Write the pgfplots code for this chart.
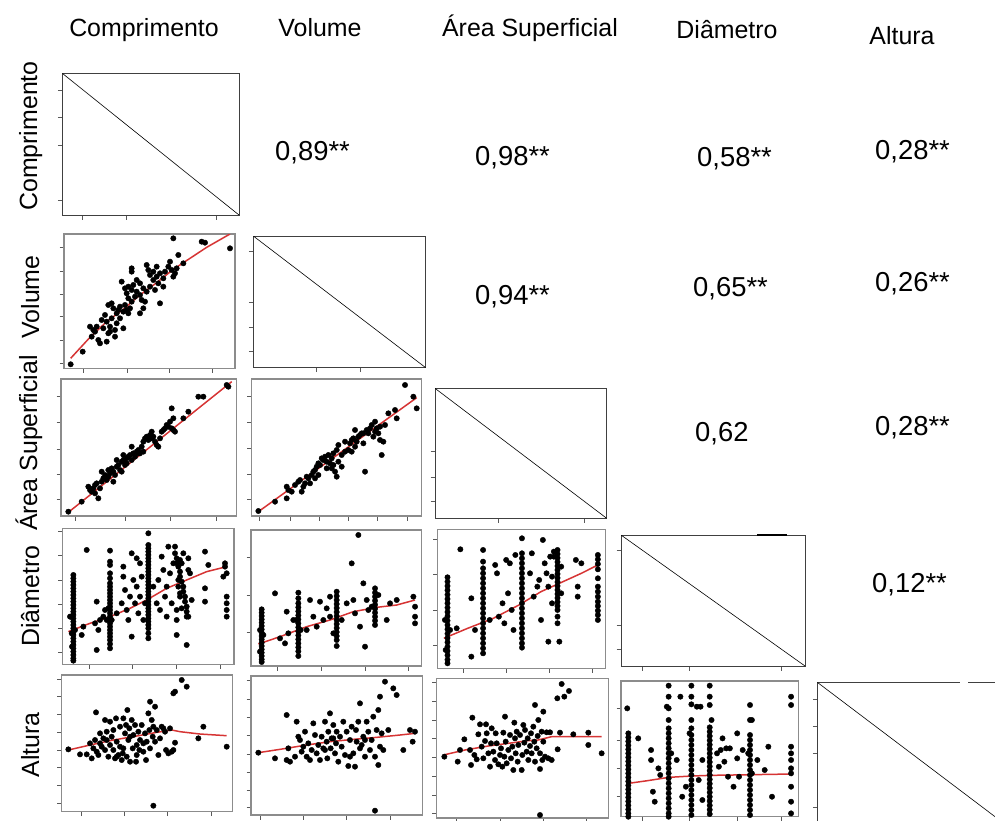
\documentclass[border=0pt]{standalone}
\usepackage{fontspec}
\setmainfont{Liberation Sans}
\usepackage{pgfplots}
\pgfplotsset{compat=1.18}
\definecolor{fitred}{RGB}{214,52,52}
\pgfplotsset{
  panel/.style={scale only axis, anchor=north west, y dir=reverse,
    axis line style={black!45, line width=1.4bp}, tick align=outside,
    major tick length=4.5bp, tick style={black!65, line width=0.7bp},
    xticklabels={}, yticklabels={}, xtick pos=bottom, ytick pos=left, clip=true},
  dpanel/.style={panel, axis line style={black!75, line width=0.9bp}},
  scat/.style={only marks, mark=*, mark size=2.7bp, black, mark options={draw=black, fill=black}},
  fit/.style={no marks, fitred, line width=1.5bp},
  dline/.style={no marks, black, line width=0.6bp},
}
\begin{document}
\begin{tikzpicture}
\useasboundingbox (0,0) rectangle (995bp,-821bp);
% headers
\begin{scope}[every node/.style={font=\fontsize{25}{30}\selectfont, anchor=base, inner sep=0pt}]
\node at (144bp,-36bp) {Comprimento};
\node at (320bp,-36bp) {Volume};
\node at (530bp,-36bp) {Área Superficial};
\node at (727bp,-38bp) {Diâmetro};
\node at (902bp,-44bp) {Altura};
\node[rotate=90] at (37bp,-136bp) {Comprimento};
\node[rotate=90] at (39bp,-297bp) {Volume};
\node[rotate=90] at (37bp,-443bp) {Área Superficial};
\node[rotate=90] at (39bp,-596bp) {Diâmetro};
\node[rotate=90] at (39bp,-745bp) {Altura};
\end{scope}
\begin{scope}[every node/.style={font=\fontsize{27.5}{32}\selectfont, anchor=base west, inner sep=0pt}]
\node at (275bp,-160bp) {0,89**};
\node at (475bp,-165bp) {0,98**};
\node at (697bp,-166bp) {0,58**};
\node at (875bp,-159bp) {0,28**};
\node at (475bp,-304bp) {0,94**};
\node at (693bp,-296bp) {0,65**};
\node at (875bp,-291bp) {0,26**};
\node at (695bp,-441bp) {0,62};
\node at (875bp,-435bp) {0,28**};
\node at (872bp,-592bp) {0,12**};
\end{scope}

% Row 1
\begin{axis}[dpanel, at={(62.3bp,-73.3bp)}, width=176.7bp, height=141.7bp,
  xmin=187, xmax=717, ymin=40, ymax=465, xtick={248,380,650}, ytick={92,173,255,420}]
\addplot[dline] coordinates {(187,40) (717,465)};
\end{axis}

% Row 2
\begin{axis}[panel, at={(64bp,-234bp)}, width=171bp, height=134.3bp,
  xmin=72, xmax=585, ymin=12, ymax=415, xtick={130,262,388,518}, ytick={52,123,192,260,330,400}]
\addplot[scat] coordinates {(92,403)(128,365)(150,290)(160,300)(155,320)(165,305)(175,330)(180,340)(200,335)(205,310)(190,295)(200,275)(215,265)(210,290)(225,300)(230,280)(240,265)(250,295)(205,225)(215,220)(220,235)(235,240)(240,230)(250,245)(255,225)(260,240)(265,250)(270,235)(275,215)(285,200)(290,185)(300,195)(305,210)(310,235)(245,155)(255,175)(265,170)(275,180)(280,165)(290,150)(300,160)(310,175)(320,185)(330,170)(275,115)(275,125)(320,105)(325,120)(330,135)(340,125)(350,140)(360,130)(350,110)(340,150)(355,160)(360,220)(370,145)(375,125)(385,110)(390,95)(395,120)(400,140)(405,130)(410,115)(415,75)(430,100)(400,25)(485,35)(495,38)(570,55)(265,205)(230,250)(260,190)(300,250)(315,215)(345,180)(370,170)(195,255)(170,290)(185,270)(210,305)(225,320)};
\addplot[fit] coordinates {(92,385)(150,322)(200,275)(250,238)(300,195)(350,158)(400,118)(450,85)(500,52)(570,12)};
\end{axis}
\begin{axis}[dpanel, at={(253.3bp,-236bp)}, width=172.4bp, height=131.7bp,
  xmin=640, xmax=1157, ymin=18, ymax=413, xtick={830,960}, ytick={65,217,291,365}]
\addplot[dline] coordinates {(640,18) (1157,413)};
\end{axis}

% Row 3
\begin{axis}[panel, at={(61bp,-379bp)}, width=175.7bp, height=137bp,
  xmin=18, xmax=545, ymin=12, ymax=423, xtick={60,212,345,485}, ytick={65,143,222,297,372}]
\addplot[scat] coordinates {(40,410)(80,380)(100,335)(105,345)(110,350)(115,340)(120,330)(125,325)(130,370)(135,340)(140,320)(145,310)(150,300)(155,315)(160,305)(165,295)(170,280)(175,290)(180,300)(185,275)(190,270)(195,285)(200,260)(205,255)(210,270)(215,250)(220,245)(225,240)(230,255)(235,235)(240,245)(245,230)(250,225)(255,235)(260,215)(265,200)(270,190)(275,185)(280,195)(285,180)(290,190)(295,185)(300,200)(305,210)(310,215)(315,190)(320,170)(325,165)(330,160)(335,150)(340,155)(345,140)(350,160)(355,165)(360,170)(350,100)(355,130)(385,130)(400,110)(430,65)(445,65)(515,30)(520,35)(140,290)(160,285)(185,255)(205,240)(230,215)(250,235)(200,290)(175,320)(120,355)(215,265)(265,230)(290,170)};
\addplot[fit] coordinates {(40,412)(530,20)};
\end{axis}
\begin{axis}[panel, at={(251.7bp,-379bp)}, width=170bp, height=137bp,
  xmin=590, xmax=1100, ymin=12, ymax=423, xtick={612,705,793,880,968,1058}, ytick={65,143,220,297,372}]
\addplot[scat] coordinates {(610,408)(660,380)(695,370)(695,335)(700,345)(710,350)(720,330)(730,320)(735,315)(740,350)(745,335)(750,325)(755,305)(760,310)(770,300)(775,290)(780,285)(785,275)(790,265)(795,270)(800,250)(805,255)(810,245)(815,260)(820,240)(825,265)(830,280)(835,270)(840,290)(845,305)(830,250)(835,235)(845,225)(850,210)(860,240)(870,230)(880,225)(885,205)(890,195)(895,190)(900,215)(905,200)(910,185)(915,180)(920,175)(925,205)(930,290)(935,165)(940,175)(945,160)(950,150)(955,185)(960,170)(965,160)(970,175)(975,195)(980,240)(985,200)(990,150)(1000,115)(1020,105)(1025,130)(1050,30)(1075,65)(1085,100)(765,325)(790,300)(815,280)(780,310)(850,260)(870,200)(900,165)(925,175)(960,140)(975,155)(860,275)(890,230)};
\addplot[fit] coordinates {(610,410)(1085,68)};
\end{axis}
\begin{axis}[dpanel, at={(435bp,-388.3bp)}, width=171.7bp, height=130bp,
  xmin=45, xmax=560, ymin=55, ymax=445, xtick={235,493}, ytick={245,322,395}]
\addplot[dline] coordinates {(45,55) (560,445)};
\end{axis}

% Row 4
\begin{axis}[panel, at={(62.7bp,-528.3bp)}, width=171.3bp, height=136bp,
  xmin=68, xmax=582, ymin=25, ymax=433, xtick={148,277,408,540}, ytick={35,107,182,253,325,398}]
\addplot[scat] coordinates {(100,165)(100,175)(100,185)(100,195)(100,205)(100,215)(100,225)(100,235)(100,245)(100,255)(100,265)(100,275)(100,285)(100,295)(100,305)(100,315)(100,325)(100,335)(100,345)(100,355)(100,365)(100,375)(100,385)(100,395)(100,405)(100,415)(100,422)(92,290)(95,340)(105,330)(96,380)
(210,92)(210,125)(210,135)(210,160)(210,175)(210,190)(210,200)(210,210)(210,220)(210,230)(210,240)(210,250)(210,260)(210,270)(210,280)(210,290)(210,300)(210,310)(210,320)(210,330)(210,340)(210,350)(210,360)(210,372)(210,385)(205,265)(215,300)
(325,40)(325,75)(325,85)(325,95)(325,105)(325,115)(325,125)(325,135)(325,145)(325,155)(325,165)(325,175)(325,185)(325,195)(325,205)(325,215)(325,225)(325,235)(325,245)(325,255)(325,265)(325,275)(325,285)(325,295)(325,305)(325,315)(325,325)(325,340)(325,355)
(405,80)(405,100)(410,115)(410,130)(415,140)(420,155)(420,170)(425,185)(430,200)(430,215)(435,230)(435,245)(440,260)(440,275)(440,290)(430,100)(425,130)(445,150)(415,200)(420,230)(425,265)(410,300)
(90,290)(125,345)(130,320)(140,90)(165,310)(170,245)(170,390)(175,330)(180,300)(190,290)(195,270)(200,300)(230,280)(245,250)(250,170)(250,140)(255,210)(260,270)(265,300)(270,230)(275,100)(275,350)(280,180)(285,250)(290,115)(290,200)(295,280)(300,130)(300,230)(305,170)(310,300)(315,250)(340,200)(350,250)(355,180)(360,270)(365,110)(370,150)(375,230)(380,200)(380,290)(385,80)(390,160)(395,250)(400,130)(410,270)(410,345)(415,180)(420,120)(420,220)(440,375)(445,115)(445,290)(450,160)(455,240)(495,95)(495,205)(495,245)(505,135)(555,130)(555,140)(560,160)(560,230)(560,250)(560,270)(560,290)(550,170)};
\addplot[fit] coordinates {(85,335)(150,310)(210,290)(270,265)(320,240)(380,205)(440,180)(500,155)(560,140)};
\end{axis}
\begin{axis}[panel, at={(251bp,-530bp)}, width=170.7bp, height=136bp,
  xmin=633, xmax=1145, ymin=30, ymax=438, xtick={712,843,975,1105}, ytick={113,225,338}]
\addplot[scat] coordinates {(665,268)(665,278)(665,288)(665,298)(665,308)(665,318)(665,328)(665,338)(665,348)(665,358)(665,368)(665,378)(665,388)(665,398)(665,408)(665,418)(665,426)(660,330)(670,345)(660,395)
(775,218)(775,235)(775,250)(775,262)(775,274)(775,286)(775,298)(775,310)(775,322)(775,334)(775,346)(775,358)(775,370)(775,382)(775,394)(775,408)(768,300)(782,330)
(890,215)(890,228)(890,240)(890,252)(890,264)(890,276)(890,288)(890,300)(890,312)(890,324)(890,336)(890,348)(890,360)(890,378)
(1005,205)(1005,218)(1005,230)(1005,242)(1005,254)(1005,266)(1005,278)(1005,290)(1005,302)(1005,315)(1015,225)(995,260)
(705,220)(740,275)(735,370)(745,340)(720,355)(810,240)(820,290)(830,320)(840,245)(850,300)(860,265)(870,230)(880,340)(905,300)(920,250)(935,130)(945,280)(955,45)(960,320)(970,190)(975,380)(980,240)(985,270)(1040,300)(1050,250)(1070,240)(1120,230)(1125,260)(1125,290)(1125,310)(800,330)(760,300)(870,290)(940,240)};
\addplot[fit] coordinates {(655,372)(720,350)(800,320)(870,300)(940,275)(1010,262)(1070,255)(1125,240)};
\end{axis}
\begin{axis}[panel, at={(437.6bp,-529.3bp)}, width=167.6bp, height=139bp,
  xmin=48, xmax=505, ymin=28, ymax=445, xtick={118,235,352,470}, ytick={58,163,270,375}]
\addplot[scat] coordinates {(75,172)(75,185)(75,198)(75,211)(75,224)(75,237)(75,250)(75,263)(75,276)(75,289)(75,302)(75,315)(75,328)(75,341)(75,354)(75,367)(75,380)(75,393)(75,406)(75,419)(75,430)(68,300)(82,330)(70,390)
(172,90)(172,125)(172,145)(172,160)(172,175)(172,190)(172,205)(172,220)(172,235)(172,250)(172,265)(172,280)(172,295)(172,310)(172,325)(172,340)(172,355)(172,370)(172,385)(172,400)
(278,55)(278,100)(278,115)(278,130)(278,145)(278,160)(278,175)(278,190)(278,205)(278,220)(278,235)(278,250)(278,265)(278,280)(278,295)(278,310)(278,325)(278,340)(278,355)(278,370)(278,383)
(375,90)(375,102)(375,114)(375,126)(375,138)(375,150)(375,162)(375,174)(375,186)(375,198)(375,210)(375,222)(375,234)(375,246)(375,258)(375,270)(375,290)(375,310)(365,110)(385,140)(360,170)
(485,105)(485,118)(485,132)(485,148)(485,175)(485,200)(485,215)(485,230)(485,245)(485,258)(485,272)(485,285)(485,300)
(110,88)(100,325)(140,235)(140,410)(150,330)(190,300)(205,135)(210,160)(215,290)(225,250)(230,310)(235,120)(240,220)(245,130)(250,270)(255,330)(260,105)(300,160)(305,100)(310,230)(320,200)(325,180)(330,300)(335,60)(340,130)(345,160)(350,200)(350,365)(355,110)(360,250)(365,95)(380,365)(385,220)(425,120)(430,200)(430,230)(440,130)};
\addplot[fit] coordinates {(65,355)(130,325)(200,295)(270,255)(330,215)(390,185)(440,160)(485,135)};
\end{axis}
\begin{axis}[dpanel, at={(621bp,-535bp)}, width=184bp, height=131bp,
  xmin=548, xmax=1050, ymin=45, ymax=438, xtick={605,735,985}, ytick={90,315,388}]
\addplot[dline] coordinates {(548,45) (1050,438)};
\end{axis}
\draw[black, line width=2bp] (757bp,-535bp) -- (787bp,-535bp);

% Row 5
\begin{axis}[panel, at={(61.7bp,-675bp)}, width=171bp, height=136.7bp,
  xmin=65, xmax=578, ymin=45, ymax=455, xtick={125,253,383,513}, ytick={57,110,163,217,270,323,377,430}]
\addplot[scat] coordinates {(340,437)(425,60)(440,80)(400,100)(405,95)(330,125)(345,140)(490,200)(475,235)(560,260)
(85,268)(120,283)(140,283)(150,250)(155,295)(160,265)(165,240)(168,157)(170,275)(175,285)(180,220)(185,260)(190,235)(195,180)(195,270)(200,240)(205,290)(210,255)(210,185)(215,230)(220,270)(225,295)(228,175)(230,245)(235,285)(240,260)(240,200)(245,300)(248,280)(250,175)(255,220)(258,195)(260,290)(262,150)(265,240)(268,205)(270,305)(275,180)(278,265)(280,225)(285,195)(288,305)(290,255)(295,215)(298,270)(300,240)(305,195)(310,275)(315,220)(318,300)(320,245)(325,160)(328,210)(330,265)(335,180)(338,230)(340,200)(345,245)(350,210)(355,285)(360,235)(365,200)(370,205)(375,215)(378,270)(385,280)(390,205)(395,275)(400,270)(405,248)(250,265)(220,210)(270,230)(230,290)(290,285)(310,250)(200,215)(180,250)};
\addplot[fit] coordinates {(85,270)(150,255)(220,240)(290,228)(350,217)(395,210)(420,215)(480,222)(560,227)};
\end{axis}
\begin{axis}[panel, at={(251bp,-676bp)}, width=171.3bp, height=139bp,
  xmin=633, xmax=1147, ymin=48, ymax=465, xtick={660,790,920,1050}, ytick={62,118,172,227,282,337,390,443}]
\addplot[scat] coordinates {(1005,452)(1035,65)(1060,85)(1070,105)(1020,110)(1015,150)(960,130)(740,165)(1090,270)(1118,245)(1125,215)(1110,210)
(655,278)(705,295)(740,300)(745,265)(750,305)(765,290)(770,185)(775,230)(780,240)(785,275)(790,260)(795,215)(800,290)(805,250)(810,300)(815,270)(820,190)(825,225)(830,280)(835,255)(840,300)(845,230)(850,265)(855,185)(860,245)(862,295)(865,215)(870,160)(872,265)(875,235)(880,195)(885,280)(888,250)(890,215)(895,305)(900,230)(905,260)(910,185)(915,285)(920,215)(925,318)(930,240)(935,200)(940,280)(945,320)(948,210)(950,245)(955,185)(960,265)(965,255)(970,230)(975,290)(980,185)(985,215)(990,270)(995,240)(1000,170)(1005,290)(1010,210)(1015,315)(1020,260)(1025,220)(1030,270)(1045,210)(880,235)(855,270)(930,290)(975,240)};
\addplot[fit] coordinates {(655,278)(720,268)(800,255)(870,245)(940,238)(1010,232)(1080,225)(1125,220)};
\end{axis}
\begin{axis}[panel, at={(436.7bp,-678.3bp)}, width=171.6bp, height=139.7bp,
  xmin=35, xmax=550, ymin=25, ymax=444, xtick={95,225,355,485}, ytick={38,93,150,205,262,318,375,430}]
\addplot[scat] coordinates {(410,42)(432,63)(418,80)(397,85)(330,105)(355,125)(340,150)(345,435)(530,250)(490,225)(490,188)(445,193)(405,188)(398,238)(345,297)
(58,260)(98,275)(105,240)(118,208)(135,240)(138,285)(142,143)(148,255)(155,268)(160,193)(165,163)(170,230)(175,265)(180,213)(183,163)(185,190)(190,250)(195,290)(198,220)(200,175)(205,245)(210,270)(212,190)(215,220)(220,283)(225,255)(228,235)(232,290)(235,188)(238,260)(240,140)(242,215)(245,280)(250,240)(255,195)(258,265)(262,230)(265,300)(268,158)(270,205)(272,250)(275,185)(278,275)(280,225)(285,195)(290,300)(292,255)(295,165)(298,218)(300,180)(305,245)(308,205)(310,270)(315,228)(318,190)(320,250)(325,170)(328,215)(330,275)(335,235)(338,198)(345,250)(350,185)(352,270)(355,215)(360,260)(365,187)(370,265)(375,187)(380,270)};
\addplot[fit] coordinates {(55,255)(120,240)(190,228)(250,220)(310,212)(340,210)(380,200)(450,200)(530,200)};
\end{axis}
\begin{axis}[panel, at={(621bp,-681bp)}, width=177.4bp, height=135.7bp,
  xmin=548, xmax=1032, ymin=483, ymax=890, xtick={605,735,865,985}, ytick={565,660,745,830}]
\addplot[scat] coordinates {(568,640)(568,652)(568,664)(568,676)(568,688)(568,700)(568,712)(568,724)(568,736)(568,748)(568,760)(568,772)(568,784)(568,796)(568,808)(568,820)(568,832)(568,844)(568,856)(568,868)(568,880)(568,890)(565,565)
(678,497)(678,530)(678,565)(678,600)(678,625)(678,640)(678,655)(678,670)(678,685)(678,700)(678,715)(678,730)(678,745)(678,760)(678,775)(678,790)(678,805)(678,820)(678,835)(678,850)(678,865)(678,880)(678,890)
(740,497)(740,530)(740,553)(740,600)(740,625)(740,645)(740,660)(740,675)(740,690)(740,705)(740,720)(740,735)(740,750)(740,765)(740,780)(740,795)(740,810)(740,825)(740,840)(740,855)(740,870)(740,885)
(790,497)(790,530)(790,555)(790,622)(790,635)(790,648)(790,661)(790,674)(790,687)(790,700)(790,713)(790,726)(790,739)(790,752)(790,765)(790,778)(790,791)(790,804)(790,817)(790,830)(790,843)(790,856)(790,869)(790,882)
(900,555)(900,600)(900,645)(900,660)(900,675)(900,690)(900,705)(900,720)(900,735)(900,750)(900,765)(900,780)(900,795)(900,810)(900,825)(900,840)(900,855)(900,870)(900,885)
(1012,530)(1012,555)(1012,680)(1012,700)(1012,720)(1012,745)(1012,760)(1012,800)(1012,845)(1012,880)
(673,560)(685,700)(735,640)(795,600)(895,700)(905,760)
(595,655)(630,690)(630,720)(635,815)(640,845)(650,745)(655,765)(700,720)(710,530)(715,830)(725,800)(755,560)(760,780)(765,560)(770,720)(770,840)(810,700)(815,740)(820,690)(825,655)(830,725)(835,685)(840,770)(845,685)(855,800)(865,640)(865,715)(870,770)(880,690)(905,600)(920,720)(950,680)(960,830)(940,750)};
\addplot[fit] coordinates {(568,790)(620,782)(678,772)(740,768)(790,766)(850,765)(900,764)(1012,762)};
\end{axis}
\begin{axis}[dpanel, at={(817.3bp,-682.3bp)}, width=192.7bp, height=145.7bp,
  xmin=817.3, xmax=1010, ymin=682.3, ymax=828, xtick={}, ytick={699,726,753,807}]
\addplot[dline] coordinates {(817.3,682.3) (1010,828)};
\end{axis}
\fill[white] (960bp,-679bp) rectangle (968bp,-686bp);
\end{tikzpicture}
\end{document}
